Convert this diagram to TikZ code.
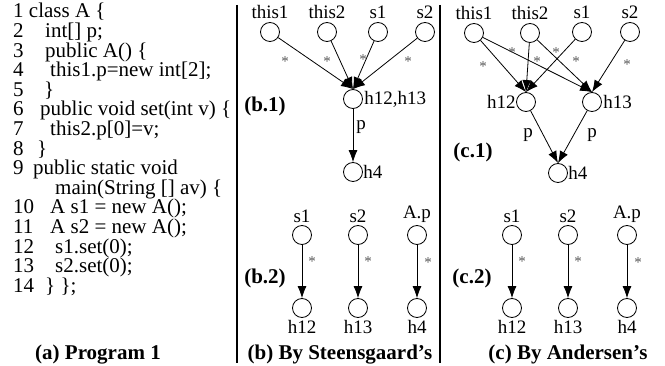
\documentclass[tikz,border=0pt]{standalone}
\usepackage{fontspec}
\setmainfont{Liberation Serif}
\usetikzlibrary{arrows.meta}
\begin{document}
\begin{tikzpicture}[x=1pt,y=-1pt,
  v/.style={circle,draw,minimum size=19pt,inner sep=0pt,line width=0.8pt},
  arr/.style={-{Latex[length=12pt,width=9pt]},line width=0.8pt},
  st/.style={text=black!65,font=\fontsize{15}{15}\selectfont,inner sep=0pt},
  code/.style={anchor=base west,inner sep=0pt,font=\fontsize{21}{21}\selectfont},
  lab/.style={font=\fontsize{19}{19}\selectfont},
  ttl/.style={anchor=base,inner sep=0pt,font=\fontsize{21}{21}\selectfont\bfseries},
  sep/.style={line width=1.2pt}]
\useasboundingbox (0,0) rectangle (665,366);
% separators
\coordinate (s1t) at (237,5); \coordinate (s1b) at (237,363);
\coordinate (s2t) at (440,5); \coordinate (s2b) at (440,363);
\draw[sep] (s1t) -- (s1b);
\draw[sep] (s2t) -- (s2b);
% program
\node[code] (n1) at (13,{18+0*19.6}) {1 class A \{};
\node[code] (n2) at (13,{18+1*19.6}) {2}; \node[code] (c2) at (45,{18+1*19.6}) {int[] p;};
\node[code] (n3) at (13,{18+2*19.6}) {3}; \node[code] (c3) at (45,{18+2*19.6}) {public A() \{};
\node[code] (n4) at (13,{18+3*19.6}) {4}; \node[code] (c4) at (50,{18+3*19.6}) {this1.p=new int[2];};
\node[code] (n5) at (13,{18+4*19.6}) {5}; \node[code] (c5) at (44,{18+4*19.6}) {\}};
\node[code] (n6) at (13,{18+5*19.6}) {6}; \node[code] (c6) at (40,{18+5*19.6}) {public void set(int v) \{};
\node[code] (n7) at (13,{18+6*19.6}) {7}; \node[code] (c7) at (50,{18+6*19.6}) {this2.p[0]=v;};
\node[code] (n8) at (13,{18+7*19.6}) {8}; \node[code] (c8) at (37,{18+7*19.6}) {\}};
\node[code] (n9) at (13,{18+8*19.6}) {9}; \node[code] (c9) at (33,{18+8*19.6}) {public static void};
\node[code] (c9b) at (55,{18+9*19.6}) {main(String [] av) \{};
\node[code] (n10) at (13,{18+10*19.6}) {10}; \node[code] (c10) at (50,{18+10*19.6}) {A s1 = new A();};
\node[code] (n11) at (13,{18+11*19.6}) {11}; \node[code] (c11) at (50,{18+11*19.6}) {A s2 = new A();};
\node[code] (n12) at (13,{18+12*19.6}) {12}; \node[code] (c12) at (55,{18+12*19.6}) {s1.set(0);};
\node[code] (n13) at (13,{18+13*19.6}) {13}; \node[code] (c13) at (55,{18+13*19.6}) {s2.set(0);};
\node[code] (n14) at (13,{18+14*19.6}) {14}; \node[code] (c14) at (45,{18+14*19.6}) {\} \};};
\node[ttl] (ta) at (98,360) {(a) Program 1};
% (b.1)
\node[v,label={[lab,label distance=0pt]above:this1}] (b1) at (270,32) {};
\node[v,label={[lab,label distance=0pt]above:this2}] (b2) at (327,32) {};
\node[v,label={[lab,label distance=0pt]above:s1}] (b3) at (378,32) {};
\node[v,label={[lab,label distance=0pt]above:s2}] (b4) at (425,32) {};
\node[v,label={[lab,label distance=-2pt]right:{h12,h13}}] (bh) at (353,99) {};
\node[v,label={[lab,label distance=-3pt]right:h4}] (bh4) at (353,172) {};
\draw[arr] (b1) -- (bh.north);
\draw[arr] (b2) -- (bh.north);
\draw[arr] (b3) -- (bh.north);
\draw[arr] (b4) -- (bh.north);
\draw[arr] (bh) -- (bh4);
\node[st] (bs1) at (285,62) {*};
\node[st] (bs2) at (327,62) {*};
\node[st] (bs3) at (363,60) {*};
\node[st] (bs4) at (408,62) {*};
\node[lab,inner sep=0pt] (bp) at (361,127) {p};
\node[ttl,anchor=center] (tb1) at (265,106) {(b.1)};
% (b.2)
\node[v,label={[lab,label distance=-1pt]above:s1}] (bb1) at (302,235) {};
\node[v,label={[lab,label distance=-1pt]above:s2}] (bb2) at (358,235) {};
\node[v,label={[lab,label distance=-1pt]above:A.p}] (bb3) at (417,235) {};
\node[v,label={[lab,label distance=-1pt]below:h12}] (bc1) at (302,308) {};
\node[v,label={[lab,label distance=-1pt]below:h13}] (bc2) at (358,308) {};
\node[v,label={[lab,label distance=-1pt]below:h4}] (bc3) at (417,308) {};
\draw[arr] (bb1) -- (bc1);
\draw[arr] (bb2) -- (bc2);
\draw[arr] (bb3) -- (bc3);
\node[st] (bt1) at (312,262) {*};
\node[st] (bt2) at (368,262) {*};
\node[st] (bt3) at (428,263) {*};
\node[ttl,anchor=center] (tb2) at (265,278) {(b.2)};
\node[ttl] (tb) at (340,360) {(b) By Steensgaard's};
% (c.1)
\node[v,label={[lab,label distance=0pt]above:this1}] (a1) at (474,33) {};
\node[v,label={[lab,label distance=0pt]above:this2}] (a2) at (530,33) {};
\node[v,label={[lab,label distance=0pt]above:s1}] (a3) at (582,32) {};
\node[v,label={[lab,label distance=0pt]above:s2}] (a4) at (630,32) {};
\node[v,label={[lab,label distance=-3pt]left:h12}] (a12) at (526,102) {};
\node[v,label={[lab,label distance=-2pt]right:h13}] (a13) at (592,102) {};
\node[v,label={[lab,label distance=-3pt]right:h4}] (a4h) at (558,173) {};
\draw[arr] (a1) -- (a12.north);
\draw[arr] (a1) -- (a13.north);
\draw[arr] (a2) -- (a12.north);
\draw[arr] (a2) -- (a13.north);
\draw[arr] (a3) -- (a12.north);
\draw[arr] (a4) -- (a13.north);
\draw[arr] (a12) -- (a4h.north);
\draw[arr] (a13) -- (a4h.north);
\node[st] (as1) at (483,67) {*};
\node[st] (as2) at (512,53) {*};
\node[st] (as3) at (537,62) {*};
\node[st] (as4) at (556,53) {*};
\node[st] (as5) at (576,62) {*};
\node[st] (as6) at (627,65) {*};
\node[lab,inner sep=0pt] (ap1) at (528,135) {p};
\node[lab,inner sep=0pt] (ap2) at (592,135) {p};
\node[ttl,anchor=center] (tc1) at (473,152) {(c.1)};
% (c.2)
\node[v,label={[lab,label distance=-1pt]above:s1}] (cb1) at (512,235) {};
\node[v,label={[lab,label distance=-1pt]above:s2}] (cb2) at (568,235) {};
\node[v,label={[lab,label distance=-1pt]above:A.p}] (cb3) at (627,235) {};
\node[v,label={[lab,label distance=-1pt]below:h12}] (cc1) at (512,308) {};
\node[v,label={[lab,label distance=-1pt]below:h13}] (cc2) at (568,308) {};
\node[v,label={[lab,label distance=-1pt]below:h4}] (cc3) at (627,308) {};
\draw[arr] (cb1) -- (cc1);
\draw[arr] (cb2) -- (cc2);
\draw[arr] (cb3) -- (cc3);
\node[st] (ct1) at (522,262) {*};
\node[st] (ct2) at (578,262) {*};
\node[st] (ct3) at (638,263) {*};
\node[ttl,anchor=center] (tc2) at (472,278) {(c.2)};
\node[ttl] (tc) at (568,360) {(c) By Andersen's};
\end{tikzpicture}
\end{document}
